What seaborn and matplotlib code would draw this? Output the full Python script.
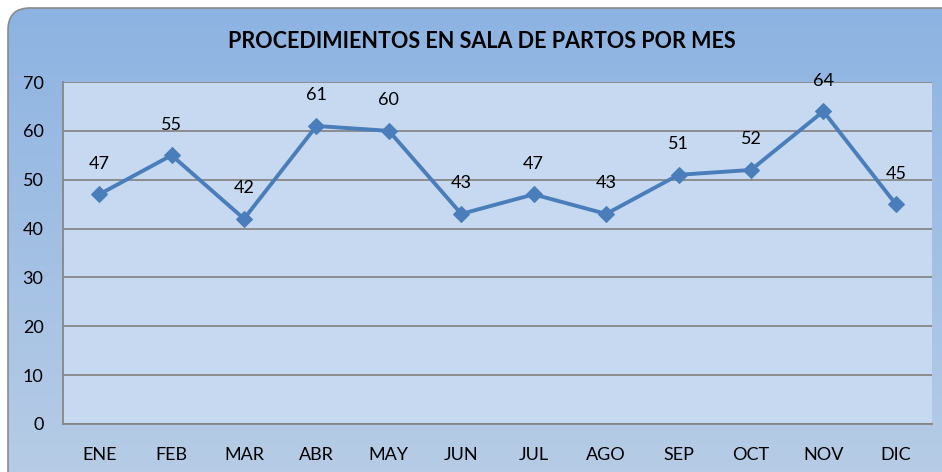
import numpy as np
import pandas as pd
import matplotlib
matplotlib.use("Agg")
import matplotlib.pyplot as plt
import seaborn as sns
from matplotlib.patches import FancyBboxPatch

# =============================================================================
# Data
# =============================================================================
meses = ["ENE", "FEB", "MAR", "ABR", "MAY", "JUN", "JUL", "AGO", "SEP", "OCT", "NOV", "DIC"]
procedimientos = [47, 55, 42, 61, 60, 43, 47, 43, 51, 52, 64, 45]
titulo = "PROCEDIMIENTOS EN SALA DE PARTOS POR MES"

df = pd.DataFrame({"mes": meses, "valor": procedimientos})
df["pos"] = np.arange(len(meses))

sns.set_style("white")
plt.rcParams["font.family"] = ["Lato", "DejaVu Sans"]

fig = plt.figure(figsize=(9.42, 4.72), dpi=100)

# Background rounded box with gradient
bg = fig.add_axes([0, 0, 1, 1], zorder=0)
bg.set_xlim(0, 942)
bg.set_ylim(472, 0)
bg.axis("off")
grad = np.linspace(0, 1, 256).reshape(-1, 1)
cmap = matplotlib.colors.LinearSegmentedColormap.from_list("bg", ["#8db3e2", "#b8cde6"])
img = bg.imshow(grad, cmap=cmap, extent=[8, 960, 490, 8], aspect="auto")
box = FancyBboxPatch((8, 8), 960, 490, boxstyle="round,pad=0,rounding_size=22",
                     facecolor="none", edgecolor="#8a8a8a", linewidth=1.2)
bg.add_patch(box)
img.set_clip_path(box)

# Plot area
ax = fig.add_axes([63 / 942, 1 - 424 / 472, (932 - 63) / 942, (424 - 82) / 472], zorder=1)
ax.set_facecolor("#c6d9f0")
sns.lineplot(data=df, x="pos", y="valor", ax=ax, color="#4a7ebb", linewidth=2.8,
             marker="D", markersize=8.5, markeredgecolor="#4a7ebb", zorder=3)

for x, y in zip(df["pos"], df["valor"]):
    ax.annotate(str(y), (x, y), xytext=(0, 22), textcoords="offset points",
                ha="center", va="center", fontsize=13, color="black")

ax.set_xlim(-0.5, len(meses) - 0.5)
ax.set_ylim(0, 70)
ax.set_yticks(range(0, 71, 10))
ax.set_xticks(df["pos"])
ax.set_xticklabels(meses)
ax.yaxis.grid(True, color="#868686", linewidth=1.3)
ax.set_axisbelow(True)
ax.tick_params(axis="both", length=0, labelsize=13, colors="black")
ax.tick_params(axis="x", pad=16.5)
ax.tick_params(axis="y", pad=14)
for s in ["top", "right"]:
    ax.spines[s].set_visible(False)
for s in ["left", "bottom"]:
    ax.spines[s].set_color("#868686")
    ax.spines[s].set_linewidth(1.3)
ax.set_xlabel("")
ax.set_ylabel("")

fig.text(0.512, 1 - 42 / 472, titulo, ha="center", va="center",
         fontsize=15.5, fontweight="bold", color="black")

fig.savefig("out.png", dpi=100)
